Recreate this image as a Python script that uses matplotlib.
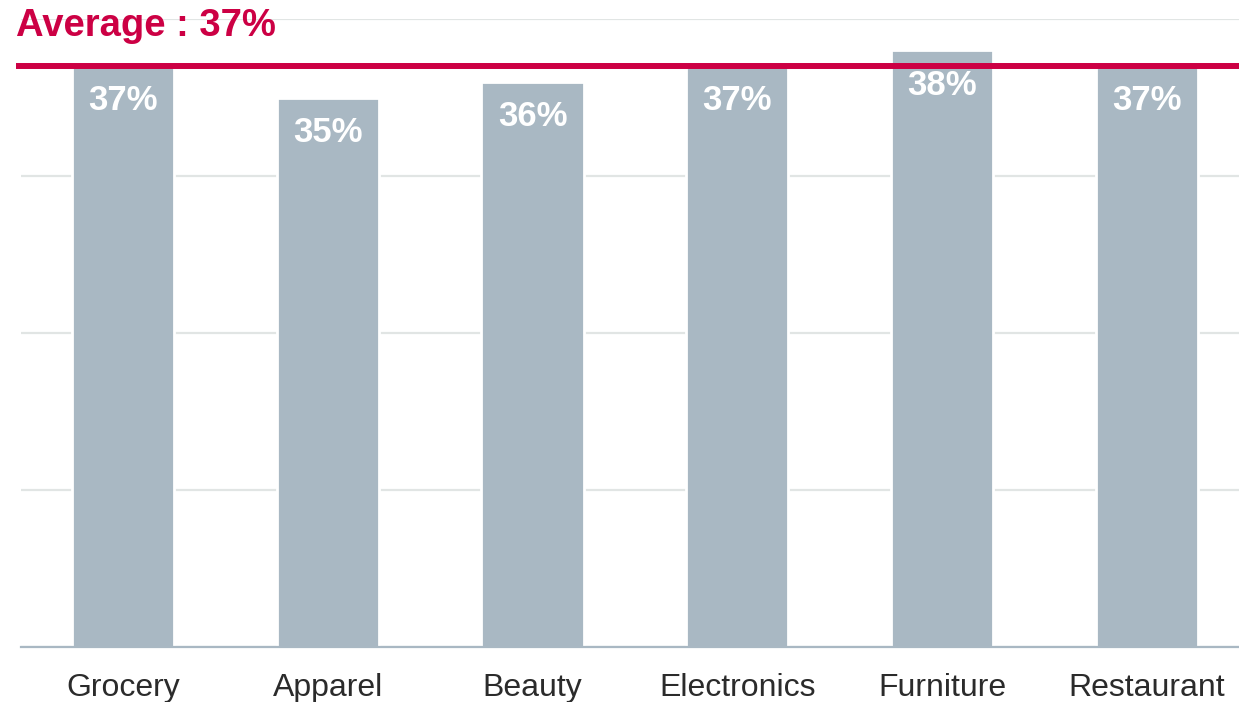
import matplotlib
matplotlib.use("Agg")
import matplotlib.pyplot as plt

# Share of value by retail category (percent)
categories = ["Grocery", "Apparel", "Beauty", "Electronics", "Furniture", "Restaurant"]
values = [37, 35, 36, 37, 38, 37]
average = 37
yticks = [0, 10, 20, 30, 40]

BAR = "#A9B8C3"
RED = "#CC0044"
GRID = "#E1E5E4"
TEXT = "#2B2B2B"

plt.rcParams["font.family"] = ["Liberation Sans", "DejaVu Sans"]

W, H = 1239, 702
fig = plt.figure(figsize=(W / 100, H / 100), dpi=100)
left, right = 20.6, 1239
bottom, top = 647, 19
ax = fig.add_axes([left / W, 1 - bottom / H, (right - left) / W, (bottom - top) / H])

x = list(range(len(categories)))
ax.bar(x, values, width=0.5, color=BAR, edgecolor="white", linewidth=2, zorder=2)

ax.set_xlim(-0.5, 5.45)
ax.set_ylim(0, 40)
ax.set_yticks(yticks)
ax.yaxis.grid(True, color=GRID, linewidth=1.6, zorder=0)
ax.set_axisbelow(True)
ax.tick_params(axis="y", left=False, labelleft=False)
ax.tick_params(axis="x", length=0, pad=18.5, labelsize=23, labelcolor=TEXT)
ax.set_xticks(x)
ax.set_xticklabels(categories)

for s in ["left", "right", "top"]:
    ax.spines[s].set_visible(False)
ax.spines["bottom"].set_color(BAR)
ax.spines["bottom"].set_linewidth(1.6)

# value labels inside the top of each bar
for xi, v in zip(x, values):
    ax.annotate(f"{v}%", (xi, v), xytext=(0, -25), textcoords="offset points",
                ha="center", va="center", color="white", fontsize=25,
                fontweight="bold", zorder=4)

# average reference line
ax.axhline(average, xmin=-0.0038, xmax=1, color=RED, linewidth=4.3,
           solid_capstyle="butt", clip_on=False, zorder=3)
fig.text(16 / W, 1 - 36 / H, f"Average : {average}%", color=RED, fontsize=27.5,
         fontweight="bold", ha="left", va="baseline")

fig.savefig("out.png", dpi=100, facecolor="white")
